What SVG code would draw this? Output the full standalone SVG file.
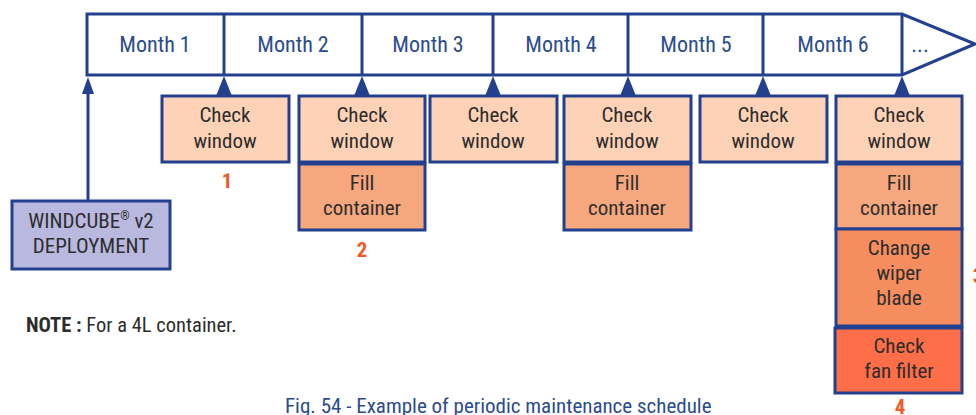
<svg xmlns="http://www.w3.org/2000/svg" width="976" height="415" viewBox="0 0 976 415">
  <style>
    .frame { fill: #ffffff; stroke: #22408e; stroke-width: 3; }
    .line { fill: none; stroke: #22408e; stroke-width: 3; }
    .head { fill: #22408e; stroke: none; }
    .box { stroke: #22408e; stroke-width: 3; }
    .check { fill: #fdd2b6; }
    .fill { fill: #f7a77e; }
    .wiper { fill: #f58d5f; }
    .fan { fill: #fe6e48; }
    .deploy { fill: #b9b9e0; }
    text { font-family: "Liberation Sans Narrow", "Roboto Condensed", "Liberation Sans", sans-serif; }
    .month { fill: #2a4c8e; font-size: 22px; text-anchor: middle; }
    .lbl { fill: #2d2d2d; font-size: 21px; text-anchor: middle; }
    .num { fill: #f15a24; font-size: 21px; font-weight: bold; text-anchor: middle; }
    .note { fill: #2d2d2d; font-size: 20.5px; }
    .cap { fill: #2a4c8e; font-size: 21px; }
  </style>

  <!-- timeline bar -->
  <g id="timeline">
    <polygon class="frame" points="87,14 902,14 975,44 902,75 87,75"/>
    <line class="line" x1="224" y1="14" x2="224" y2="75"/>
    <line class="line" x1="362" y1="14" x2="362" y2="75"/>
    <line class="line" x1="493" y1="14" x2="493" y2="75"/>
    <line class="line" x1="628" y1="14" x2="628" y2="75"/>
    <line class="line" x1="763" y1="14" x2="763" y2="75"/>
    <line class="line" x1="902" y1="14" x2="902" y2="75"/>
    <text class="month" x="155" y="52">Month 1</text>
    <text class="month" x="293" y="52">Month 2</text>
    <text class="month" x="428" y="52">Month 3</text>
    <text class="month" x="561" y="52">Month 4</text>
    <text class="month" x="696" y="52">Month 5</text>
    <text class="month" x="833" y="52">Month 6</text>
    <text class="month" x="920" y="52">...</text>
  </g>

  <!-- connectors -->
  <g id="connectors">
    <line class="line" x1="88" y1="201" x2="88" y2="88"/>
    <polygon class="head" points="88,77 94,94 82,94"/>
    <polygon class="head" points="224,76 232,96 216,96"/>
    <polygon class="head" points="362,76 370,96 354,96"/>
    <polygon class="head" points="493,76 501,96 485,96"/>
    <polygon class="head" points="628,76 636,96 620,96"/>
    <polygon class="head" points="763,76 771,96 755,96"/>
    <polygon class="head" points="902,76 910,96 894,96"/>
  </g>

  <g id="deployment">
    <rect class="box deploy" x="12" y="201" width="158" height="68"/>
    <text class="lbl" x="91" y="228">WINDCUBE<tspan font-size="12" dy="-8">®</tspan><tspan dy="8"> v2</tspan></text>
    <text class="lbl" x="91" y="253">DEPLOYMENT</text>
  </g>

  <g id="month1">
    <rect class="box check" x="162" y="96" width="127" height="66"/>
    <text class="lbl" x="225" y="122">Check</text>
    <text class="lbl" x="225" y="148">window</text>
    <text class="num" x="227" y="188">1</text>
  </g>

  <g id="month2">
    <rect class="box check" x="299" y="96" width="126" height="66"/>
    <text class="lbl" x="362" y="122">Check</text>
    <text class="lbl" x="362" y="148">window</text>
    <rect class="box fill" x="299" y="164" width="126" height="66"/>
    <text class="lbl" x="362" y="190">Fill</text>
    <text class="lbl" x="362" y="215">container</text>
    <text class="num" x="362" y="257">2</text>
  </g>

  <g id="month3">
    <rect class="box check" x="430" y="96" width="127" height="66"/>
    <text class="lbl" x="493" y="122">Check</text>
    <text class="lbl" x="493" y="148">window</text>
  </g>

  <g id="month4">
    <rect class="box check" x="564" y="96" width="127" height="66"/>
    <text class="lbl" x="627" y="122">Check</text>
    <text class="lbl" x="627" y="148">window</text>
    <rect class="box fill" x="564" y="164" width="127" height="66"/>
    <text class="lbl" x="627" y="190">Fill</text>
    <text class="lbl" x="627" y="215">container</text>
  </g>

  <g id="month5">
    <rect class="box check" x="700" y="96" width="127" height="66"/>
    <text class="lbl" x="763" y="122">Check</text>
    <text class="lbl" x="763" y="148">window</text>
  </g>

  <g id="month6">
    <rect class="box check" x="836" y="96" width="126" height="66"/>
    <text class="lbl" x="899" y="122">Check</text>
    <text class="lbl" x="899" y="148">window</text>
    <rect class="box fill" x="836" y="164" width="126" height="65"/>
    <text class="lbl" x="899" y="190">Fill</text>
    <text class="lbl" x="899" y="215">container</text>
    <rect class="box wiper" x="836" y="229" width="126" height="97"/>
    <text class="lbl" x="899" y="255">Change</text>
    <text class="lbl" x="899" y="280">wiper</text>
    <text class="lbl" x="899" y="305">blade</text>
    <rect class="box fan" x="835" y="328" width="127" height="65"/>
    <text class="lbl" x="899" y="353">Check</text>
    <text class="lbl" x="899" y="378">fan filter</text>
    <text class="num" x="978" y="283">3</text>
    <text class="num" x="900" y="414">4</text>
  </g>

  <text class="note" x="26" y="332"><tspan font-weight="bold">NOTE :</tspan> For a 4L container.</text>
  <text class="cap" x="285" y="413">Fig. 54 - Example of periodic maintenance schedule</text>
</svg>
